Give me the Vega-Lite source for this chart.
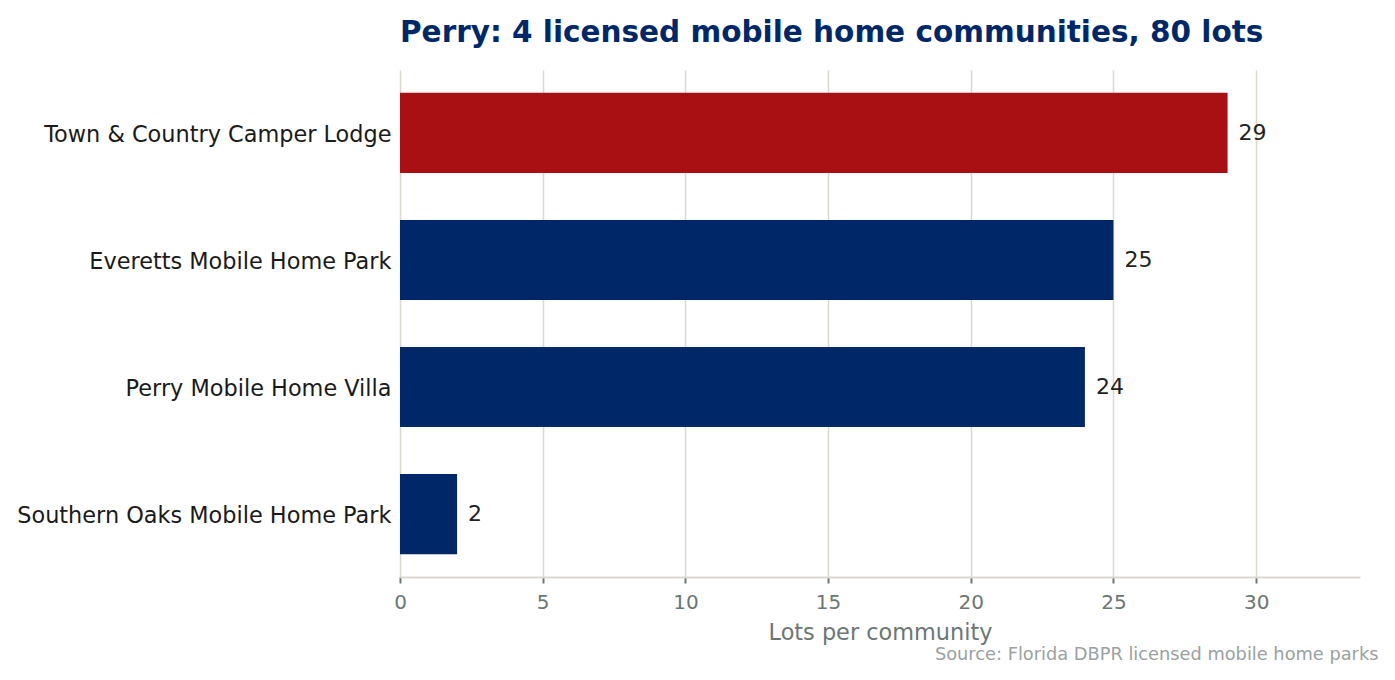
{
  "$schema": "https://vega.github.io/schema/vega-lite/v6.json",
  "autosize": {"type": "none"},
  "padding": {"left": 400, "top": 70, "right": 35, "bottom": 103},
  "width": 960,
  "height": 507,
  "background": "white",
  "title": {
    "text": "Perry: 4 licensed mobile home communities, 80 lots",
    "anchor": "start",
    "frame": "group",
    "font": "DejaVu Sans",
    "fontSize": 29.5,
    "fontWeight": "bold",
    "color": "#002868",
    "offset": 22
  },
  "config": {
    "view": {"stroke": null},
    "font": "DejaVu Sans"
  },
  "data": {
    "values": [
      {"name": "Town & Country Camper Lodge", "lots": 29, "group": "top"},
      {"name": "Everetts Mobile Home Park", "lots": 25, "group": "other"},
      {"name": "Perry Mobile Home Villa", "lots": 24, "group": "other"},
      {"name": "Southern Oaks Mobile Home Park", "lots": 2, "group": "other"}
    ]
  },
  "encoding": {
    "y": {
      "field": "name",
      "type": "nominal",
      "sort": "-x",
      "scale": {"paddingInner": 0.37, "paddingOuter": 0.18},
      "axis": {
        "title": null,
        "domain": false,
        "ticks": false,
        "labelFont": "DejaVu Sans",
        "labelFontSize": 22.4,
        "labelColor": "#1a1a1a",
        "labelPadding": 9,
        "labelLimit": 600,
        "labelOffset": 2
      }
    },
    "x": {
      "field": "lots",
      "type": "quantitative",
      "scale": {"domain": [0, 33.64], "nice": false, "zero": true}
    }
  },
  "layer": [
    {
      "mark": {"type": "bar"},
      "encoding": {
        "x": {
          "field": "lots",
          "type": "quantitative",
          "axis": {
            "title": "Lots per community",
            "titleFont": "DejaVu Sans",
            "titleFontSize": 22.4,
            "titleFontWeight": "normal",
            "titleColor": "#6b7674",
            "titlePadding": 9,
            "values": [0, 5, 10, 15, 20, 25, 30],
            "format": "d",
            "labelFont": "DejaVu Sans",
            "labelFontSize": 20,
            "labelColor": "#6b7674",
            "labelPadding": 9,
            "labelFlush": false,
            "grid": true,
            "gridColor": "#dcd8d0",
            "gridWidth": 1.5,
            "domain": true,
            "domainColor": "#dcd8d0",
            "domainWidth": 2,
            "ticks": true,
            "tickColor": "#6b7674",
            "tickSize": 6,
            "tickWidth": 2
          }
        },
        "color": {
          "field": "group",
          "type": "nominal",
          "scale": {"domain": ["top", "other"], "range": ["#a81014", "#002868"]},
          "legend": null
        }
      }
    },
    {
      "mark": {
        "type": "text",
        "align": "left",
        "baseline": "middle",
        "dx": 11,
        "font": "DejaVu Sans",
        "fontSize": 22,
        "color": "#222222"
      },
      "encoding": {
        "text": {"field": "lots", "type": "quantitative"},
        "x": {
          "field": "lots",
          "type": "quantitative",
          "axis": {
            "title": "Source: Florida DBPR licensed mobile home parks",
            "titleFont": "DejaVu Sans",
            "titleFontSize": 17.8,
            "titleFontWeight": "normal",
            "titleColor": "#9aa19f",
            "titleAnchor": "end",
            "titleAlign": "right",
            "titleX": 978,
            "titleY": 593,
            "labels": false,
            "ticks": false,
            "domain": false,
            "grid": false
          }
        }
      }
    }
  ],
  "resolve": {"axis": {"x": "independent"}}
}
